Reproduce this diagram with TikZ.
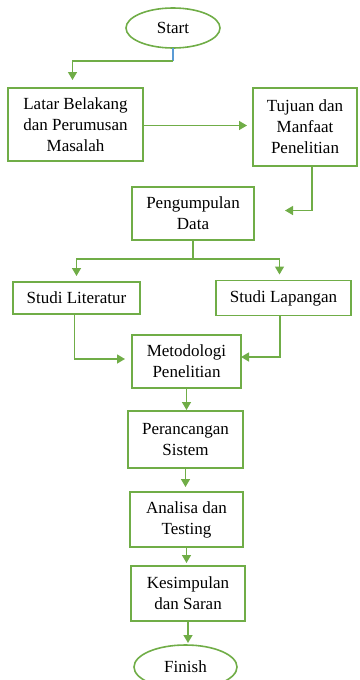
\documentclass[tikz,border=0pt]{standalone}
\usepackage{fontspec}
\setmainfont{Liberation Serif}
\usetikzlibrary{positioning,shapes.geometric,arrows.meta}
\definecolor{leaf}{RGB}{112,173,71}
\definecolor{sky}{RGB}{91,155,213}
\tikzset{
  proc/.style={draw=leaf, line width=1.6pt, align=center, inner sep=0pt, outer sep=0pt,
    font=\fontsize{17}{21}\selectfont},
  term/.style={proc, ellipse},
  flow/.style={draw=leaf, line width=1.4pt, -{Triangle[length=8pt,width=9pt]}},
}

\begin{document}
\begin{tikzpicture}[x=1pt,y=1pt]
  \useasboundingbox (0,0) rectangle (359,-680);
  % Define nodes
  \node[term, minimum width=94pt, minimum height=40pt] (start) at (173,-28) {Start};
  \node[proc, minimum width=135pt, minimum height=73pt, below=40pt of start, xshift=-97.5pt] (latar) {Latar Belakang\\dan Perumusan\\Masalah};
  \node[proc, minimum width=104pt, minimum height=78pt, right=110pt of latar, yshift=-2.5pt] (tujuan) {Tujuan dan\\Manfaat\\Penelitian};
  \node[proc, minimum width=122pt, minimum height=53pt, below=21pt of tujuan, xshift=-112pt] (kumpul) {Pengumpulan\\Data};
  \node[proc, minimum width=127pt, minimum height=32pt, below=42pt of kumpul, xshift=-116.5pt] (literatur) {Studi Literatur};
  \node[proc, minimum width=135pt, minimum height=35pt, right=76pt of literatur] (lapangan) {Studi Lapangan};
  \node[proc, minimum width=109pt, minimum height=53pt, below=21pt of literatur, xshift=110pt] (metode) {Metodologi\\Penelitian};
  \node[proc, minimum width=115pt, minimum height=57pt, below=23pt of metode, xshift=-1pt] (rancang) {Perancangan\\Sistem};
  \node[proc, minimum width=113pt, minimum height=55pt, below=24pt of rancang, xshift=1pt] (analisa) {Analisa dan\\Testing};
  \node[proc, minimum width=114pt, minimum height=55pt, below=19pt of analisa, xshift=1.5pt] (simpul) {Kesimpulan\\dan Saran};
  \node[term, minimum width=103pt, minimum height=44pt, below=24pt of simpul, xshift=-2.5pt] (finish) {Finish};
  % Connect nodes
  \draw[sky, line width=1.4pt] (start.south) -- ++(0,-13) coordinate (s1);
  \draw[flow, shorten >=8pt] (s1) -| ([xshift=-3pt]latar.north);
  \draw[flow, shorten >=6pt] ([yshift=-1pt]latar.east) -- ([yshift=-1pt]latar.east -| tujuan.west);
  \draw[flow, shorten >=31pt] ([xshift=7pt]tujuan.south) |- ([yshift=3pt]kumpul.east);
  \draw[leaf, line width=1.4pt] (kumpul.south) -- ++(0,-19) coordinate (k1);
  \draw[flow, shorten >=6pt] (k1) -| (literatur.north);
  \draw[flow, shorten >=6pt] (k1) -| ([xshift=-4pt]lapangan.north);
  \draw[flow, shorten >=7pt] ([xshift=-2pt]literatur.south) |- ([yshift=2.5pt]metode.west);
  \draw[flow] ([xshift=-3.5pt]lapangan.south) |- ([yshift=4.5pt]metode.east);
  \draw[flow, shorten >=1pt] (metode.south) -- (metode.south |- rancang.north);
  \draw[flow, shorten >=5pt] (rancang.south) -- (rancang.south |- analisa.north);
  \draw[flow, shorten >=3pt] (analisa.south) -- (analisa.south |- simpul.north);
  \draw[flow, shorten >=2pt] (simpul.south) -- (simpul.south |- finish.north);
\end{tikzpicture}
\end{document}
